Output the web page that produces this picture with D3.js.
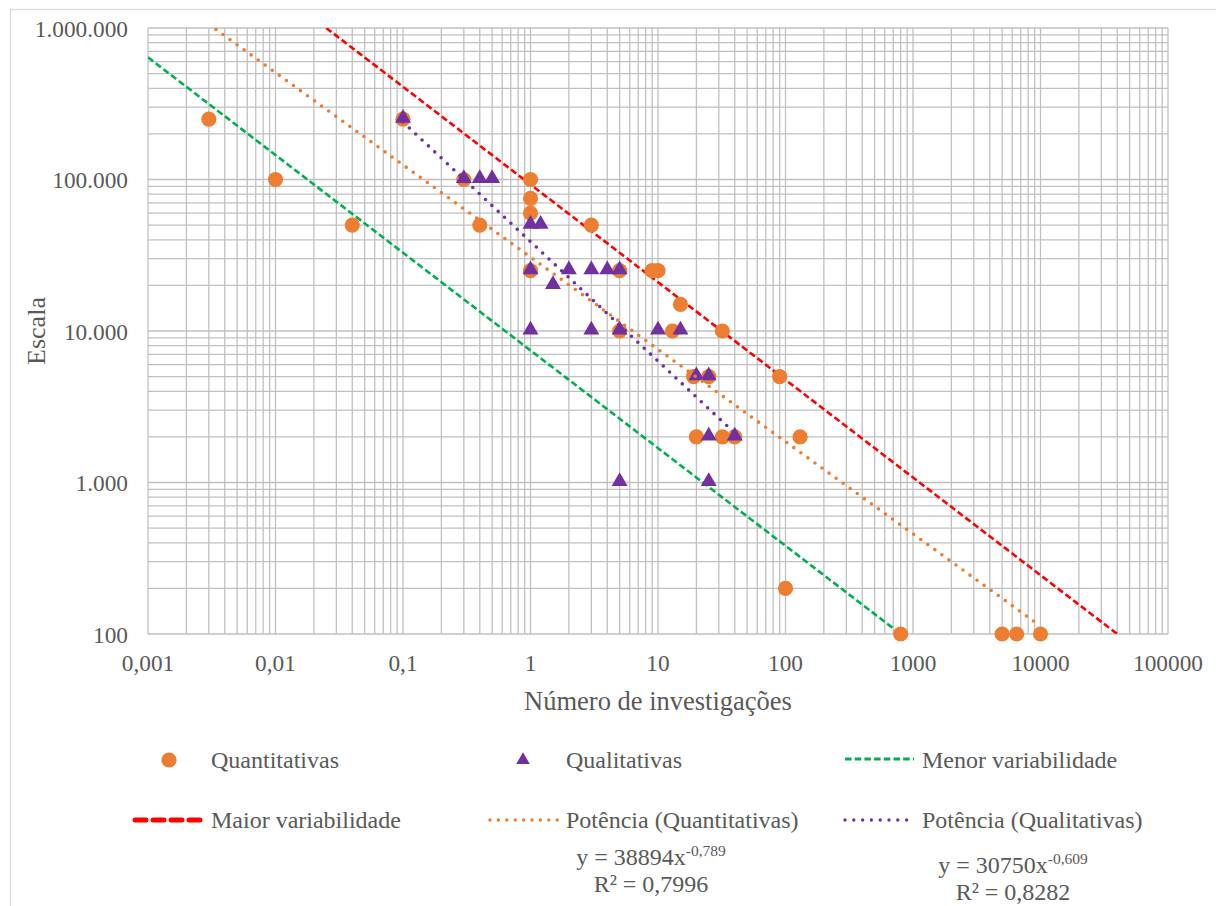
<!DOCTYPE html>
<html><head><meta charset="utf-8">
<script src="https://cdn.jsdelivr.net/npm/d3@7"></script>
<style>html,body{margin:0;padding:0;background:#fff;}svg{display:block;}svg text{font-family:'Liberation Serif','Times New Roman',serif;}</style>
</head><body>
<svg id="chart" width="1216" height="906"></svg>
<script>
// ---- Data ----
const quantX = [0.003, 0.01, 0.04, 0.1, 0.3, 0.4, 1, 1, 1, 1, 3, 5, 9, 10, 15, 5, 13, 32, 19, 25, 90, 20, 32, 40, 130, 100, 800, 5000, 6500, 10000];
const quantY = [250000, 100000, 50000, 250000, 100000, 50000, 100000, 75000, 60000, 25000, 50000, 25000, 25000, 25000, 15000, 10000, 10000, 10000, 5000, 5000, 5000, 2000, 2000, 2000, 2000, 200, 100, 100, 100, 100];
const qualX = [0.1, 0.3, 0.4, 0.5, 1, 1.2, 1, 1.5, 2, 3, 4, 5, 1, 3, 5, 10, 15, 20, 25, 25, 40, 5, 25];
const qualY = [250000, 100000, 100000, 100000, 50000, 50000, 25000, 20000, 25000, 25000, 25000, 25000, 10000, 10000, 10000, 10000, 10000, 5000, 5000, 2000, 2000, 1000, 1000];
const menorX = [0.001, 800];
const menorY = [640000, 100];
const maiorX = [0.025, 40000];
const maiorY = [1000000, 100];
// power trendlines y = a * x^b
const trendQuant = [30750, -0.609];
const trendQual = [38894, -0.789];
const xTickVals = [0.001, 0.01, 0.1, 1, 10, 100, 1000, 10000, 100000];
const xTickLabels = ["0,001", "0,01", "0,1", "1", "10", "100", "1000", "10000", "100000"];
const yTickVals = [100, 1000, 10000, 100000, 1000000];
const yTickLabels = ["100", "1.000", "10.000", "100.000", "1.000.000"];
const legendLabels = ["Quantitativas", "Qualitativas", "Menor variabilidade", "Maior variabilidade", "Potência (Quantitativas)", "Potência (Qualitativas)"];
const eqQuantText = ["y = 38894x", "-0,789", "R² = 0,7996"];
const eqQualText = ["y = 30750x", "-0,609", "R² = 0,8282"];
const xTitle = "Número de investigações";
const yTitle = "Escala";

// ---- Layout ----
const FONT = "'Liberation Serif','Times New Roman',serif";
const TXT = "#595959";
const ORANGE = "#ED7D31", PURPLE = "#7030A0", GREEN = "#00B050", RED = "#FF0000", GRID = "#C0C0C0";
const L = 148, R = 1168, T = 28, B = 634;

const svg = d3.select("#chart");
svg.append("rect").attr("width", 1216).attr("height", 906).attr("fill", "#fff");
svg.append("rect").attr("x", 10.5).attr("y", 9.5).attr("width", 1400).attr("height", 1000)
  .attr("fill", "none").attr("stroke", "#D9D9D9").attr("stroke-width", 1.3);

const x = d3.scaleLog().domain([0.001, 100000]).range([L, R]);
const y = d3.scaleLog().domain([100, 1000000]).range([B, T]);

// grid
const g = svg.append("g");
const xGrid = [], yGrid = [];
for (let k = -3; k <= 4; k++) for (let m = 1; m <= 9; m++) xGrid.push(m * Math.pow(10, k));
xGrid.push(100000);
for (let k = 2; k <= 5; k++) for (let m = 1; m <= 9; m++) yGrid.push(m * Math.pow(10, k));
yGrid.push(1000000);
g.selectAll(".vx").data(xGrid).join("line")
  .attr("x1", d => x(d)).attr("x2", d => x(d)).attr("y1", T).attr("y2", B)
  .attr("stroke", GRID).attr("stroke-width", 1.3);
g.selectAll(".hy").data(yGrid).join("line")
  .attr("y1", d => y(d)).attr("y2", d => y(d)).attr("x1", L).attr("x2", R)
  .attr("stroke", GRID).attr("stroke-width", 1.3);

// tick labels
svg.selectAll(".xt").data(xTickVals).join("text")
  .attr("x", d => x(d)).attr("y", B + 37).attr("text-anchor", "middle")
  .attr("font-family", FONT).attr("font-size", 23.3).attr("fill", TXT)
  .text((d, i) => xTickLabels[i]);
svg.selectAll(".yt").data(yTickVals).join("text")
  .attr("x", 128).attr("y", d => y(d) + 8.5).attr("text-anchor", "end")
  .attr("font-family", FONT).attr("font-size", 23.3).attr("fill", TXT)
  .text((d, i) => yTickLabels[i]);

// axis titles
svg.append("text").attr("x", (L + R) / 2).attr("y", 710).attr("text-anchor", "middle")
  .attr("font-family", FONT).attr("font-size", 26.5).attr("fill", TXT).text(xTitle);
svg.append("text").attr("transform", `translate(45,${(T + B) / 2}) rotate(-90)`).attr("text-anchor", "middle")
  .attr("font-family", FONT).attr("font-size", 26).attr("fill", TXT).text(yTitle);

// clip
svg.append("clipPath").attr("id", "clip").append("rect")
  .attr("x", L).attr("y", T).attr("width", R - L).attr("height", B - T);

const line = d3.line().x(d => x(d[0])).y(d => y(d[1]));
const plot = svg.append("g").attr("clip-path", "url(#clip)");

// reference lines
plot.append("path").datum(menorX.map((v, i) => [v, menorY[i]])).attr("d", line)
  .attr("fill", "none").attr("stroke", GREEN).attr("stroke-width", 2.6).attr("stroke-dasharray", "6.5 3.2");
plot.append("path").datum(maiorX.map((v, i) => [v, maiorY[i]])).attr("d", line)
  .attr("fill", "none").attr("stroke", RED).attr("stroke-width", 2.6).attr("stroke-dasharray", "6.5 3.2");

// markers
const mk = svg.append("g");
mk.selectAll(".q").data(quantX.map((v, i) => [v, quantY[i]])).join("circle")
  .attr("cx", d => x(d[0])).attr("cy", d => y(d[1])).attr("r", 7.6).attr("fill", ORANGE);
const tri = d3.symbol().type(d3.symbolTriangle).size(110);
mk.selectAll(".t").data(qualX.map((v, i) => [v, qualY[i]])).join("path")
  .attr("d", tri).attr("transform", d => `translate(${x(d[0])},${y(d[1]) - 1})`).attr("fill", PURPLE);

// trendlines
function trendPts(xs, c) {
  const lo = d3.min(xs), hi = d3.max(xs);
  return [lo, hi].map(v => [v, c[0] * Math.pow(v, c[1])]);
}
const tl = svg.append("g").attr("clip-path", "url(#clip)");
tl.append("path").datum(trendPts(quantX, trendQuant)).attr("d", line)
  .attr("fill", "none").attr("stroke", ORANGE).attr("stroke-width", 3.6)
  .attr("stroke-linecap", "round").attr("stroke-dasharray", "0 8.7");
tl.append("path").datum(trendPts(qualX, trendQual)).attr("d", line)
  .attr("fill", "none").attr("stroke", PURPLE).attr("stroke-width", 3.6)
  .attr("stroke-linecap", "round").attr("stroke-dasharray", "0 8.7");

// legend
const lg = svg.append("g").attr("font-family", FONT).attr("font-size", 24).attr("fill", TXT);
const row1 = 760, row2 = 820;
const colLine = [[135, 205], [490, 558], [845, 914]];
const colText = [211, 566, 922];
function ltext(xp, yp, s) {
  lg.append("text").attr("x", xp).attr("y", yp).attr("font-family", FONT).attr("font-size", 24).attr("fill", TXT).text(s);
}
// row 1
lg.append("circle").attr("cx", 169).attr("cy", row1).attr("r", 7.6).attr("fill", ORANGE);
ltext(colText[0], row1 + 8, legendLabels[0]);
lg.append("path").attr("d", d3.symbol().type(d3.symbolTriangle).size(80))
  .attr("transform", `translate(523,${row1})`).attr("fill", PURPLE);
ltext(colText[1], row1 + 8, legendLabels[1]);
lg.append("line").attr("x1", colLine[2][0]).attr("x2", colLine[2][1]).attr("y1", row1 - 1).attr("y2", row1 - 1)
  .attr("stroke", GREEN).attr("stroke-width", 2.8).attr("stroke-dasharray", "6.5 3.2");
ltext(colText[2], row1 + 8, legendLabels[2]);
// row 2
lg.append("line").attr("x1", colLine[0][0]).attr("x2", colLine[0][1] - 3).attr("y1", row2).attr("y2", row2)
  .attr("stroke", RED).attr("stroke-width", 5).attr("stroke-linecap", "round").attr("stroke-dasharray", "11 7");
ltext(colText[0], row2 + 8, legendLabels[3]);
lg.append("line").attr("x1", colLine[1][0]).attr("x2", colLine[1][1]).attr("y1", row2).attr("y2", row2)
  .attr("stroke", ORANGE).attr("stroke-width", 3.4).attr("stroke-linecap", "round").attr("stroke-dasharray", "0 8.4");
ltext(colText[1], row2 + 8, legendLabels[4]);
lg.append("line").attr("x1", colLine[2][0]).attr("x2", colLine[2][1] - 6).attr("y1", row2).attr("y2", row2)
  .attr("stroke", PURPLE).attr("stroke-width", 3.4).attr("stroke-linecap", "round").attr("stroke-dasharray", "0 8.8");
ltext(colText[2], row2 + 8, legendLabels[5]);

// equations
function eq(cx, y1, y2, t) {
  const e = svg.append("g").attr("font-family", FONT).attr("fill", TXT);
  const tx = e.append("text").attr("x", cx).attr("y", y1).attr("text-anchor", "middle").attr("font-size", 24);
  tx.append("tspan").text(t[0]);
  tx.append("tspan").attr("dy", -9).attr("font-size", 15.5).text(t[1]);
  e.append("text").attr("x", cx).attr("y", y2).attr("text-anchor", "middle").attr("font-size", 24).text(t[2]);
}
eq(651, 865, 892, eqQuantText);
eq(1013, 873, 900, eqQualText);
</script>
</body></html>
